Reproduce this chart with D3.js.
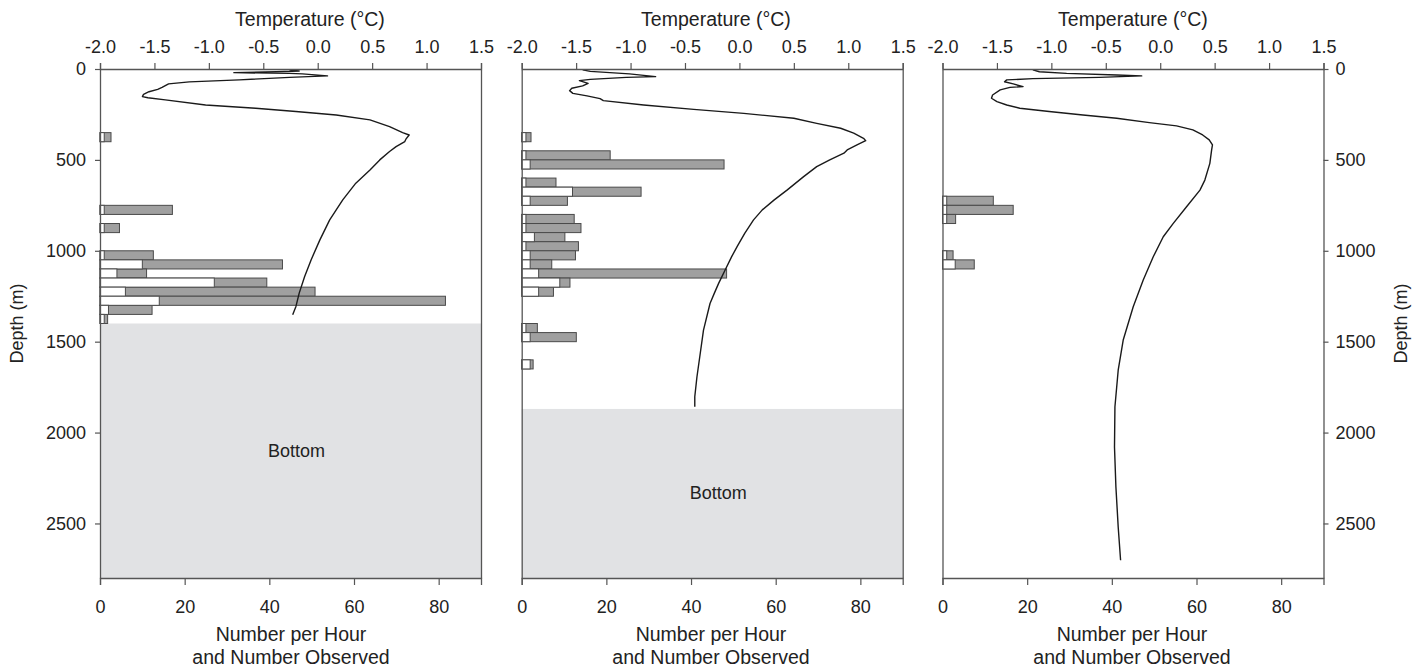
<!DOCTYPE html>
<html>
<head>
<meta charset="utf-8">
<script src="https://cdn.jsdelivr.net/npm/d3@7"></script>
<style>
  html, body { margin: 0; padding: 0; background: #fff; }
  svg { display: block; }
  text { font-family: "Liberation Sans", Arial, Helvetica, sans-serif; fill: #222; }
</style>
</head>
<body>
<svg id="chart" width="1422" height="668"></svg>
<script>
// ---------- data ----------
const depthTicks = [0, 500, 1000, 1500, 2000, 2500];
const tempTicks = [-2.0, -1.5, -1.0, -0.5, 0.0, 0.5, 1.0, 1.5];
const countTicks = [0, 20, 40, 60, 80];
const binSize = 50;

// Panel 1
const p1BinTop   = [350, 750, 850, 1000, 1050, 1100, 1150, 1200, 1250, 1300, 1350];
const p1Observed = [1, 1, 1, 1, 10, 4, 27, 6, 14, 2, 1];
const p1PerHour  = [2.6, 17.1, 4.6, 12.6, 43.1, 11.0, 39.4, 50.8, 81.6, 12.3, 1.8];
const p1Bottom = 1400;
const p1Depth = [5, 11, 15, 20, 24, 27, 38, 46, 60, 71, 82, 101, 112, 125, 139, 152, 158, 170, 198, 216, 234, 253, 280, 317, 350, 363, 386, 399, 427, 454, 500, 555, 628, 720, 830, 940, 1049, 1141, 1233, 1306, 1352];
const p1Temp  = [-0.26, -0.17, -0.38, -0.77, -0.26, -0.14, 0.09, -0.26, -0.72, -1.18, -1.37, -1.43, -1.47, -1.55, -1.60, -1.61, -1.56, -1.40, -1.03, -0.57, -0.20, 0.17, 0.48, 0.66, 0.78, 0.84, 0.81, 0.80, 0.72, 0.66, 0.57, 0.48, 0.35, 0.23, 0.11, 0.02, -0.06, -0.12, -0.17, -0.20, -0.23];

// Panel 2
const p2BinTop   = [350, 450, 500, 600, 650, 700, 800, 850, 900, 950, 1000, 1050, 1100, 1150, 1200, 1400, 1450, 1600];
const p2Observed = [1, 1, 2, 1, 12, 2, 1, 1, 3, 1, 2, 2, 4, 9, 4, 1, 2, 2];
const p2PerHour  = [2.2, 20.9, 47.8, 8.1, 28.2, 10.8, 12.4, 14.0, 10.2, 13.4, 12.7, 7.1, 48.4, 11.4, 7.5, 3.7, 12.9, 2.7];
const p2Bottom = 1870;
const p2Depth = [5, 13, 20, 27, 42, 46, 57, 64, 79, 93, 106, 119, 134, 148, 163, 174, 198, 222, 244, 271, 299, 326, 353, 381, 394, 418, 445, 463, 500, 537, 592, 665, 720, 775, 830, 903, 976, 1031, 1104, 1178, 1233, 1290, 1436, 1565, 1693, 1803, 1858];
const p2Temp  = [-1.44, -1.37, -1.19, -1.01, -0.77, -1.04, -1.37, -1.47, -1.39, -1.44, -1.54, -1.56, -1.53, -1.40, -1.28, -1.25, -0.88, -0.42, 0.04, 0.50, 0.71, 0.93, 1.05, 1.14, 1.16, 1.08, 0.99, 0.96, 0.83, 0.71, 0.59, 0.44, 0.32, 0.21, 0.13, 0.05, -0.02, -0.07, -0.13, -0.19, -0.23, -0.27, -0.33, -0.36, -0.39, -0.41, -0.41];

// Panel 3
const p3BinTop   = [700, 750, 800, 1000, 1050];
const p3Observed = [1, 1, 1, 1, 3];
const p3PerHour  = [12.0, 16.7, 3.1, 2.5, 7.5];
const p3Bottom = null;
const p3Depth = [5, 15, 24, 33, 38, 46, 53, 60, 70, 82, 97, 101, 115, 143, 161, 179, 198, 216, 234, 253, 271, 295, 313, 335, 363, 390, 418, 446, 519, 611, 666, 758, 849, 923, 1033, 1161, 1308, 1491, 1657, 1858, 2079, 2299, 2519, 2702];
const p3Temp  = [-1.17, -1.11, -0.86, -0.40, -0.17, -0.56, -1.17, -1.41, -1.43, -1.35, -1.26, -1.38, -1.47, -1.54, -1.55, -1.50, -1.41, -1.29, -1.02, -0.71, -0.40, -0.10, 0.15, 0.30, 0.39, 0.45, 0.48, 0.472, 0.456, 0.41, 0.365, 0.242, 0.12, 0.028, -0.064, -0.156, -0.248, -0.34, -0.386, -0.416, -0.42, -0.407, -0.386, -0.364];

// ---------- layout ----------
const svg = d3.select("#chart");
const plotTop = 69, plotBottom = 578;
const FONT = 18;
const TITLE_FONT = 19.5;
const axisColor = "#555";

const panels = [
  { x0: 100,   x1: 481,    binTop: p1BinTop, obs: p1Observed, ph: p1PerHour, bottom: p1Bottom, depth: p1Depth, temp: p1Temp, leftAxis: true,  rightAxis: false, tTitleX: 310,  bTitleX: 291 },
  { x0: 521.7, x1: 902.7,  binTop: p2BinTop, obs: p2Observed, ph: p2PerHour, bottom: p2Bottom, depth: p2Depth, temp: p2Temp, leftAxis: false, rightAxis: false, tTitleX: 716,  bTitleX: 711 },
  { x0: 942.5, x1: 1323.5, binTop: p3BinTop, obs: p3Observed, ph: p3PerHour, bottom: p3Bottom, depth: p3Depth, temp: p3Temp, leftAxis: false, rightAxis: true,  tTitleX: 1133, bTitleX: 1132 }
];

const y = d3.scaleLinear().domain([0, 2800]).range([plotTop, plotBottom]);
const depthFmt = d3.format("d");

function styleAxis(g) {
  g.selectAll("path.domain").attr("stroke", axisColor).attr("stroke-width", 1.3);
  g.selectAll(".tick line").attr("stroke", axisColor).attr("stroke-width", 1.2);
  g.selectAll(".tick text").attr("font-size", FONT).attr("fill", "#222")
    .attr("font-family", '"Liberation Sans", Arial, sans-serif');
}

panels.forEach((p, i) => {
  const g = svg.append("g");
  const xc = d3.scaleLinear().domain([0, 90]).range([p.x0, p.x1]);
  const xt = d3.scaleLinear().domain([-2.0, 1.5]).range([p.x0, p.x1]);

  // bottom (seafloor) area
  if (p.bottom !== null) {
    g.append("rect")
      .attr("x", p.x0).attr("y", y(p.bottom))
      .attr("width", p.x1 - p.x0).attr("height", y(2800) - y(p.bottom))
      .attr("fill", "#e1e2e4");
    g.append("text")
      .attr("x", (p.x0 + p.x1) / 2 + 6)
      .attr("y", y((p.bottom + 2800) / 2) + 6)
      .attr("text-anchor", "middle")
      .attr("font-size", FONT)
      .text("Bottom");
  }

  const rows = p.binTop.map((d, k) => ({ d: d, obs: p.obs[k], ph: p.ph[k] }));

  // number per hour bars (grey)
  g.selectAll("rect.ph").data(rows).enter().append("rect")
    .attr("class", "ph")
    .attr("x", xc(0))
    .attr("y", r => y(r.d))
    .attr("width", r => xc(r.ph) - xc(0))
    .attr("height", r => y(r.d + binSize) - y(r.d))
    .attr("fill", "#a0a0a0")
    .attr("stroke", "#4a4a4a")
    .attr("stroke-width", 1);

  // number observed bars (white)
  g.selectAll("rect.obs").data(rows).enter().append("rect")
    .attr("class", "obs")
    .attr("x", xc(0))
    .attr("y", r => y(r.d))
    .attr("width", r => xc(r.obs) - xc(0))
    .attr("height", r => y(r.d + binSize) - y(r.d))
    .attr("fill", "#ffffff")
    .attr("stroke", "#4a4a4a")
    .attr("stroke-width", 1);

  // temperature profile
  const pts = p.depth.map((d, k) => [p.temp[k], d]);
  g.append("path")
    .datum(pts)
    .attr("fill", "none")
    .attr("stroke", "#1a1a1a")
    .attr("stroke-width", 1.4)
    .attr("stroke-linejoin", "round")
    .attr("d", d3.line().x(q => xt(q[0])).y(q => y(q[1])));

  // top temperature axis
  const gTop = g.append("g").attr("transform", `translate(0,${plotTop})`)
    .call(d3.axisTop(xt).tickValues(tempTicks).tickSize(6).tickPadding(10)
      .tickFormat(v => v.toFixed(1)));
  styleAxis(gTop);

  // bottom count axis
  const gBot = g.append("g").attr("transform", `translate(0,${plotBottom})`)
    .call(d3.axisBottom(xc).tickValues(countTicks).tickSize(7).tickPadding(15));
  styleAxis(gBot);

  // left frame / axis
  const gL = g.append("g").attr("transform", `translate(${p.x0},0)`)
    .call(d3.axisLeft(y).tickValues(p.leftAxis ? depthTicks : []).tickFormat(depthFmt)
      .tickSize(p.leftAxis ? 5 : 0).tickSizeOuter(0).tickPadding(9));
  styleAxis(gL);

  // right frame / axis
  const gR = g.append("g").attr("transform", `translate(${p.x1},0)`)
    .call(d3.axisRight(y).tickValues(p.rightAxis ? depthTicks : []).tickFormat(depthFmt)
      .tickSize(p.rightAxis ? 5 : 0).tickSizeOuter(0).tickPadding(7));
  styleAxis(gR);

  // titles
  g.append("text")
    .attr("x", p.tTitleX).attr("y", 26)
    .attr("text-anchor", "middle").attr("font-size", TITLE_FONT)
    .text("Temperature (°C)");
  g.append("text")
    .attr("x", p.bTitleX).attr("y", 641)
    .attr("text-anchor", "middle").attr("font-size", TITLE_FONT)
    .text("Number per Hour");
  g.append("text")
    .attr("x", p.bTitleX).attr("y", 664)
    .attr("text-anchor", "middle").attr("font-size", TITLE_FONT)
    .text("and Number Observed");
});

// depth titles
svg.append("text")
  .attr("transform", `translate(23,${(plotTop + plotBottom) / 2}) rotate(-90)`)
  .attr("text-anchor", "middle").attr("font-size", FONT)
  .text("Depth (m)");
svg.append("text")
  .attr("transform", `translate(1407,${(plotTop + plotBottom) / 2}) rotate(-90)`)
  .attr("text-anchor", "middle").attr("font-size", FONT)
  .text("Depth (m)");
</script>
</body>
</html>
